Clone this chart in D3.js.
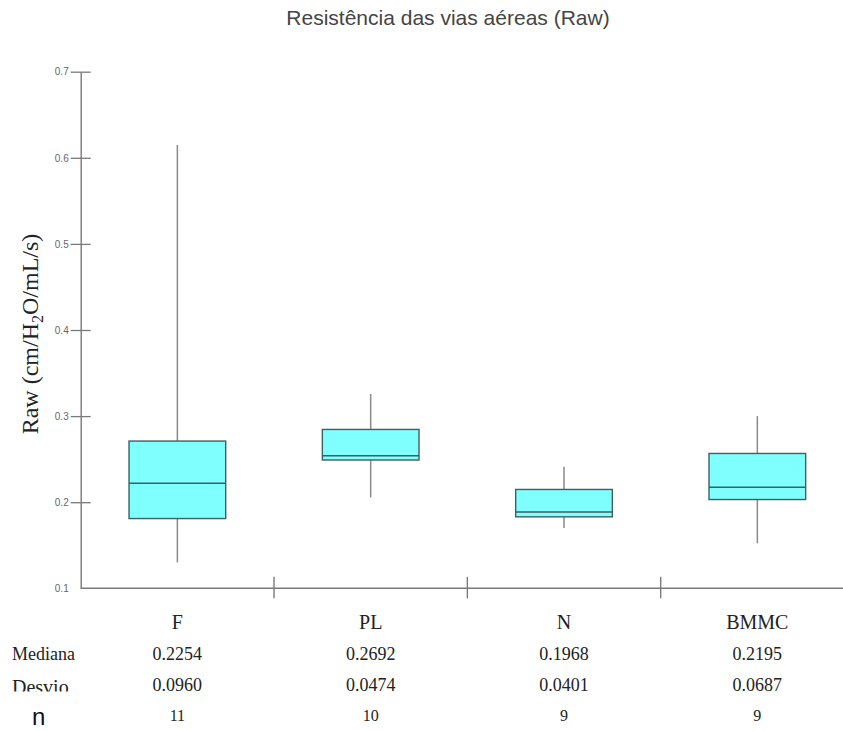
<!DOCTYPE html>
<html>
<head>
<meta charset="utf-8">
<script src="https://cdn.jsdelivr.net/npm/d3@7/dist/d3.min.js"></script>
<style>
  html, body { margin: 0; padding: 0; background: #fff; }
  svg { display: block; }
</style>
</head>
<body>
<svg id="chart" width="843" height="731"></svg>
<script>
// Airway resistance (Raw) per group: box plot + summary table
const categories   = ["F", "PL", "N", "BMMC"];
const whiskerLow   = [0.130, 0.2055, 0.170, 0.1523];
const quartile1    = [0.181, 0.249, 0.183, 0.2031];
const medians      = [0.222, 0.254, 0.1887, 0.2174];
const quartile3    = [0.271, 0.2845, 0.2148, 0.2566];
const whiskerHigh  = [0.615, 0.3257, 0.2411, 0.300];

const yTickValues  = [0.1, 0.2, 0.3, 0.4, 0.5, 0.6, 0.7];

const rowLabels    = ["Mediana", "Desvio", "n"];
const tableMedian  = ["0.2254", "0.2692", "0.1968", "0.2195"];
const tableDesvio  = ["0.0960", "0.0474", "0.0401", "0.0687"];
const tableN       = ["11", "10", "9", "9"];

const title = "Resistência das vias aéreas (Raw)";

const svg = d3.select("#chart");

const axisX0 = 80.7;
const x = d3.scaleBand().domain(categories).range([axisX0, 854]).padding(0);
const y = d3.scaleLinear().domain([0.1, 0.7]).range([588.3, 71.7]);

const axisColor = "#7a7a7a";
const boxStroke = "#3f5f60";
const boxFill = "#80ffff";
const whiskerColor = "#8a8a8a";

// Title
svg.append("text")
  .attr("x", 448).attr("y", 25)
  .attr("text-anchor", "middle")
  .attr("font-family", "'Liberation Sans', Arial, sans-serif")
  .attr("font-size", 21)
  .attr("fill", "#444")
  .text(title);

// Y axis (ticks cross the axis line)
const yAxis = svg.append("g")
  .attr("transform", `translate(${axisX0},0)`)
  .call(d3.axisLeft(y).tickValues(yTickValues).tickFormat(d3.format(".1f"))
    .tickSizeInner(10).tickSizeOuter(0).tickPadding(2));
yAxis.select(".domain").attr("stroke", axisColor).attr("stroke-width", 1.4);
yAxis.selectAll(".tick line")
  .attr("x1", -10).attr("x2", 10)
  .attr("stroke", axisColor).attr("stroke-width", 1.3)
  .filter(d => d === 0.1).remove();
yAxis.selectAll(".tick text")
  .attr("font-family", "'Liberation Sans', Arial, sans-serif")
  .attr("font-size", 10)
  .attr("fill", "#666");

// X axis: baseline with group dividers
const xAxisY = y(0.1);
svg.append("line")
  .attr("x1", axisX0).attr("x2", 843)
  .attr("y1", xAxisY).attr("y2", xAxisY)
  .attr("stroke", axisColor).attr("stroke-width", 1.4);
svg.append("g").selectAll("line")
  .data(categories.slice(1))
  .join("line")
  .attr("x1", d => x(d)).attr("x2", d => x(d))
  .attr("y1", xAxisY - 11.5).attr("y2", xAxisY + 10)
  .attr("stroke", axisColor).attr("stroke-width", 1.4);

// Y axis title with subscript
const yTitle = svg.append("text")
  .attr("transform", "translate(38,334) rotate(-90)")
  .attr("text-anchor", "middle")
  .attr("font-family", "'Liberation Serif', 'Times New Roman', serif")
  .attr("font-size", 24)
  .attr("fill", "#222");
yTitle.append("tspan").text("Raw (cm/H");
yTitle.append("tspan").attr("font-size", 16).attr("dy", 5).text("2");
yTitle.append("tspan").attr("dy", -5).text("O/mL/s)");

// Box plots
const boxes = categories.map((c, i) => ({
  cat: c, lo: whiskerLow[i], q1: quartile1[i], med: medians[i],
  q3: quartile3[i], hi: whiskerHigh[i]
}));
const boxW = x.bandwidth() * 0.5;
const g = svg.append("g");
const cx = d => x(d.cat) + x.bandwidth() / 2;

g.selectAll(".whisker-hi").data(boxes).join("line")
  .attr("x1", cx).attr("x2", cx)
  .attr("y1", d => y(d.hi)).attr("y2", d => y(d.q3))
  .attr("stroke", whiskerColor).attr("stroke-width", 1.5);
g.selectAll(".whisker-lo").data(boxes).join("line")
  .attr("x1", cx).attr("x2", cx)
  .attr("y1", d => y(d.q1)).attr("y2", d => y(d.lo))
  .attr("stroke", whiskerColor).attr("stroke-width", 1.5);
g.selectAll(".box").data(boxes).join("rect")
  .attr("x", d => cx(d) - boxW / 2)
  .attr("y", d => y(d.q3))
  .attr("width", boxW)
  .attr("height", d => y(d.q1) - y(d.q3))
  .attr("fill", boxFill)
  .attr("stroke", boxStroke).attr("stroke-width", 1.4);
g.selectAll(".median").data(boxes).join("line")
  .attr("x1", d => cx(d) - boxW / 2).attr("x2", d => cx(d) + boxW / 2)
  .attr("y1", d => y(d.med)).attr("y2", d => y(d.med))
  .attr("stroke", boxStroke).attr("stroke-width", 1.6);

// Category labels
const serif = "'Liberation Serif', 'Times New Roman', serif";
svg.append("g").selectAll("text").data(categories).join("text")
  .attr("x", d => x(d) + x.bandwidth() / 2)
  .attr("y", 629)
  .attr("text-anchor", "middle")
  .attr("font-family", serif).attr("font-size", 20)
  .attr("fill", "#222")
  .text(d => d);

// Summary table
const rowY = [660, 691, 721];
const rows = [tableMedian, tableDesvio, tableN];
const rowSize = [18, 18, 16];
rows.forEach((vals, r) => {
  svg.append("g").selectAll("text").data(vals).join("text")
    .attr("x", (d, i) => x(categories[i]) + x.bandwidth() / 2)
    .attr("y", rowY[r])
    .attr("text-anchor", "middle")
    .attr("font-family", serif).attr("font-size", rowSize[r])
    .attr("fill", "#222")
    .text(d => d);
});

// Row labels ("Desvio" is clipped along its lower edge)
svg.append("defs").append("clipPath").attr("id", "desvioClip")
  .append("rect").attr("x", 0).attr("y", 660).attr("width", 120).attr("height", 31.5);
svg.append("text")
  .attr("x", 12).attr("y", 660)
  .attr("font-family", serif).attr("font-size", 18).attr("fill", "#222")
  .text(rowLabels[0]);
svg.append("text")
  .attr("x", 12).attr("y", 694)
  .attr("clip-path", "url(#desvioClip)")
  .attr("font-family", serif).attr("font-size", 20).attr("fill", "#222")
  .text(rowLabels[1]);
svg.append("text")
  .attr("x", 32).attr("y", 725)
  .attr("font-family", "'Liberation Sans', Arial, sans-serif")
  .attr("font-size", 24).attr("fill", "#111")
  .text(rowLabels[2]);
</script>
</body>
</html>
